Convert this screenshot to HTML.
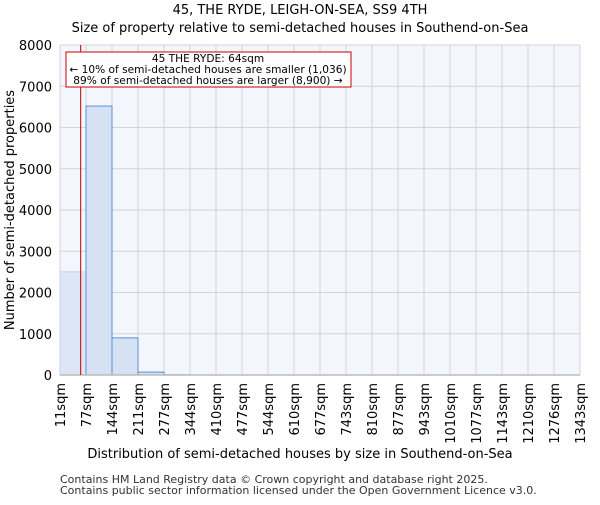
<!DOCTYPE html>
<html><head><meta charset="utf-8"><style>body{margin:0;background:#fff}svg{font-family:"DejaVu Sans","Liberation Sans",sans-serif}</style></head><body>
<svg id="c" width="600" height="500">
<text x="300" y="14" text-anchor="middle" font-size="13">45, THE RYDE, LEIGH-ON-SEA, SS9 4TH</text>
<text x="300" y="32" text-anchor="middle" font-size="13">Size of property relative to semi-detached houses in Southend-on-Sea</text>
<rect x="60" y="45" width="520" height="330" fill="#f3f6fd"/>
<g id="grid"></g><g id="bars"></g><g id="ticks"></g>
<text transform="translate(14,210) rotate(-90)" text-anchor="middle" font-size="13">Number of semi-detached properties</text>
<text x="300" y="458" text-anchor="middle" font-size="13">Distribution of semi-detached houses by size in Southend-on-Sea</text>
<text x="60" y="483" font-size="11" fill="#333">Contains HM Land Registry data © Crown copyright and database right 2025.</text>
<text x="60" y="494" font-size="11" fill="#333">Contains public sector information licensed under the Open Government Licence v3.0.</text>
<g id="marker"></g>
<rect x="66" y="52" width="285" height="35" fill="#fff" stroke="#c00"/>
<text x="208" y="62" text-anchor="middle" font-size="10.6">45 THE RYDE: 64sqm</text>
<text x="208" y="73" text-anchor="middle" font-size="10.6">← 10% of semi-detached houses are smaller (1,036)</text>
<text x="208" y="84" text-anchor="middle" font-size="10.6">89% of semi-detached houses are larger (8,900) →</text>
</svg>
<script>
const binLabels=["11sqm","77sqm","144sqm","211sqm","277sqm","344sqm","410sqm","477sqm","544sqm","610sqm","677sqm","743sqm","810sqm","877sqm","943sqm","1010sqm","1077sqm","1143sqm","1210sqm","1276sqm","1343sqm"];
const counts=[2500,6520,900,70,5,0,0,0,0,0,0,0,0,0,0,0,0,0,0,0];
const yTicks=[0,1000,2000,3000,4000,5000,6000,7000,8000];
const propertySize=64;
const NS="http://www.w3.org/2000/svg";
const x0=60,x1=580,y0=375,y1=45,ymax=8000,nb=counts.length;
const bw=(x1-x0)/nb;
const xs=i=>x0+i*bw, ys=v=>y0-(v/ymax)*(y0-y1);
const xv=v=>x0+(v-11)/(1343-11)*(x1-x0);
function mk(t,a,p){const e=document.createElementNS(NS,t);for(const k in a)e.setAttribute(k,a[k]);p.appendChild(e);return e;}
const g=document.getElementById('grid'),b=document.getElementById('bars'),tk=document.getElementById('ticks');
yTicks.forEach(v=>{const l=mk('line',{x1:x0,x2:x1,y1:ys(v),y2:ys(v),stroke:'#d4d4d4'},g);


const t=mk('text',{x:52,y:ys(v)+5,'text-anchor':'end','font-size':13},tk);t.textContent=v;

});
binLabels.forEach((s,i)=>{const l=mk('line',{x1:xs(i),x2:xs(i),y1:y1,y2:y0,stroke:'#d4d4d4'},g);


const t=mk('text',{transform:`translate(${xs(i)+5},383) rotate(-90)`,'text-anchor':'end','font-size':13},tk);t.textContent=s;

});
counts.forEach((c,i)=>{if(c<=0)return;const r=mk('rect',{x:xs(i),y:ys(c),width:bw,height:y0-ys(c),fill:i===0?'#dde6f5':'#d6e1f4',stroke:i===0?'#c5d3ee':'#5b8fd9','stroke-width':1},b);

});
const ax=mk('line',{x1:x0,x2:x1,y1:y0,y2:y0,stroke:'#bbb','stroke-width':1.5},tk);


const m=mk('line',{x1:xv(propertySize),x2:xv(propertySize),y1:y1,y2:y0,stroke:'#b00','stroke-width':1},document.getElementById('marker'));


</script>
</body></html>
